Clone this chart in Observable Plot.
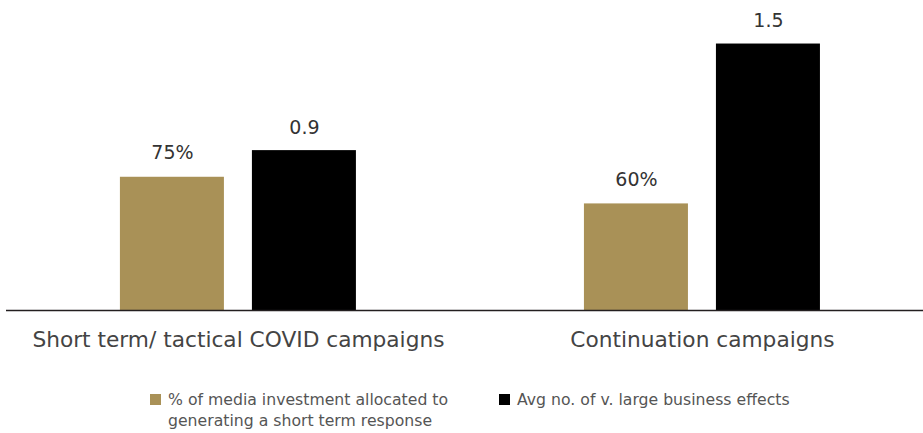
<!DOCTYPE html>
<html>
<head>
<meta charset="utf-8">
<script src="https://cdn.jsdelivr.net/npm/d3@7"></script>
<script src="https://cdn.jsdelivr.net/npm/@observablehq/plot@0.6"></script>
<style>
  body { margin: 0; background: #fff; font-family: "DejaVu Sans", sans-serif; }
  #wrap { width: 923px; position: relative; }
  #legend { position: relative; height: 63px; font-size: 15.7px; color: #555; }
  .item { position: absolute; top: 19px; display: flex; align-items: flex-start; line-height: 21px; }
  .sw { width: 11px; height: 11px; margin-top: 5px; margin-right: 7px; flex: none; }
</style>
</head>
<body>
<div id="wrap">
  <div id="chart"></div>
  <div id="legend"></div>
</div>
<script>
const categories = ["Short term/ tactical COVID campaigns", "Continuation campaigns"];
const seriesNames = ["% of media investment allocated to generating a short term response", "Avg no. of v. large business effects"];
const investmentShare = [0.75, 0.60];
const investmentLabels = ["75%", "60%"];
const largeEffects = [0.9, 1.5];
const effectLabels = ["0.9", "1.5"];
const seriesColors = ["#a99157", "#000000"];

const investRows = categories.map((c, i) => ({category: c, value: investmentShare[i], label: investmentLabels[i]}));
const effectRows = categories.map((c, i) => ({category: c, value: largeEffects[i], label: effectLabels[i]}));

const plot = Plot.plot({
  width: 923,
  height: 370,
  marginLeft: 6,
  marginRight: 0,
  marginTop: 8,
  marginBottom: 60,
  style: {fontFamily: "DejaVu Sans, sans-serif", background: "#fff"},
  x: {domain: categories, paddingInner: 0.4914, paddingOuter: 0.2338, align: 0.525, round: false, axis: null},
  y: {domain: [0, 1.7], axis: null},
  marks: [
    Plot.barY(investRows, {x: "category", y: "value", fill: seriesColors[0], insetRight: 132}),
    Plot.barY(effectRows, {x: "category", y: "value", fill: seriesColors[1], insetLeft: 132}),
    Plot.text(investRows, {x: "category", y: "value", text: "label", dx: -66, dy: -18, lineAnchor: "bottom", fontSize: 19, fill: "#333"}),
    Plot.text(effectRows, {x: "category", y: "value", text: "label", dx: 66, dy: -17, lineAnchor: "bottom", fontSize: 19, fill: "#333"}),
    Plot.ruleY([0], {stroke: "#231f20", strokeWidth: 1.6}),
    Plot.axisX({domain: categories, tickSize: 0, tickPadding: 21, fontSize: 21.7, color: "#444", fill: "#444", label: null})
  ]
});
document.getElementById("chart").appendChild(plot);

const legend = document.getElementById("legend");
const positions = [150, 499];
const widths = [320, 340];
seriesNames.forEach((name, i) => {
  const item = document.createElement("div");
  item.className = "item";
  item.style.left = positions[i] + "px";
  item.style.width = widths[i] + "px";
  const sw = document.createElement("div");
  sw.className = "sw";
  sw.style.background = seriesColors[i];
  const t = document.createElement("div");
  t.textContent = name;
  item.appendChild(sw);
  item.appendChild(t);
  legend.appendChild(item);
});
</script>
</body>
</html>
